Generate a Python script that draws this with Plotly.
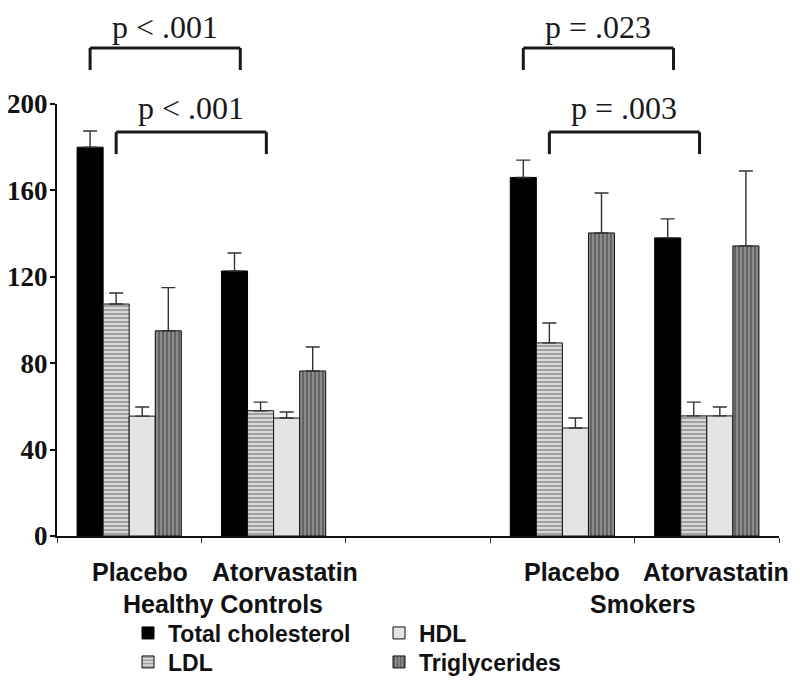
import plotly.graph_objects as go

# ---- data ----
categories = ["HC Placebo", "HC Atorvastatin", "gap", "Smokers Placebo", "Smokers Atorvastatin"]
tick_labels = ["Placebo", "Atorvastatin", "", "Placebo", "Atorvastatin"]
group_labels = ["Healthy Controls", "Smokers"]

total_chol = [180, 122.7, None, 166, 138]
total_chol_err = [7.5, 8.3, None, 8, 8.8]
ldl = [107.4, 58, None, 89.4, 55.6]
ldl_err = [5.1, 4, None, 9.2, 6.4]
hdl = [55.5, 54.6, None, 50, 55.6]
hdl_err = [4.2, 2.8, None, 4.6, 4.1]
trig = [95, 76.4, None, 140.3, 134.3]
trig_err = [20, 11.1, None, 18.5, 34.7]

p_labels = ["p < .001", "p < .001", "p = .023", "p = .003"]

# ---- style ----
BARGAP = 0.278
N_TRACES = 4
bar_w = (1 - BARGAP) / N_TRACES
def offset(i):
    return -(1 - BARGAP) / 2 + bar_w * (i + 0.5)

SANS = "Liberation Sans"
SERIF = "Liberation Serif"

# page has an 8px body margin: figure sized to fit the 800x685 window
FIG_W, FIG_H = 784, 669

def err(arr):
    return dict(type="data", array=arr, arrayminus=[0 if v is not None else None for v in arr],
                symmetric=False, color="#333333", thickness=1.4, width=7)

fig = go.Figure()
fig.add_trace(go.Bar(x=categories, y=total_chol, name="Total cholesterol",
                     marker=dict(color="#000000", line=dict(color="#000000", width=1)),
                     error_y=err(total_chol_err), legend="legend"))
fig.add_trace(go.Bar(x=categories, y=ldl, name="LDL",
                     marker=dict(color="#d4d4d4", line=dict(color="#111111", width=1),
                                 pattern=dict(shape="-", fgcolor="#8a8a8a", bgcolor="#d8d8d8",
                                              size=4, solidity=0.35, fillmode="replace")),
                     error_y=err(ldl_err), legend="legend3"))
fig.add_trace(go.Bar(x=categories, y=hdl, name="HDL",
                     marker=dict(color="#e4e4e4", line=dict(color="#111111", width=1)),
                     error_y=err(hdl_err), legend="legend2"))
fig.add_trace(go.Bar(x=categories, y=trig, name="Triglycerides",
                     marker=dict(color="#7a7a7a", line=dict(color="#111111", width=1),
                                 pattern=dict(shape="|", fgcolor="#5a5a5a", bgcolor="#8c8c8c",
                                              size=4, solidity=0.4, fillmode="replace")),
                     error_y=err(trig_err), legend="legend4"))

LBL_FONT = dict(family=SANS, size=25, color="#111111", weight="bold")

# category labels
annotations = []
label_shift = [11, 11, 0, 10, 9]
for i, lab in enumerate(tick_labels):
    if lab:
        annotations.append(dict(x=i, xref="x", xshift=label_shift[i], y=-0.083, yref="paper",
                                text=lab, showarrow=False, yanchor="middle", font=LBL_FONT))
annotations.append(dict(x=0.5, xref="x", xshift=22, y=-0.157, yref="paper",
                        text=group_labels[0], showarrow=False, yanchor="middle", font=LBL_FONT))
annotations.append(dict(x=3.5, xref="x", xshift=8, y=-0.157, yref="paper",
                        text=group_labels[1], showarrow=False, yanchor="middle", font=LBL_FONT))

# significance brackets: (left category, right category, trace index, level)
brackets = [(0, 1, 0, "top"), (0, 1, 1, "low"), (3, 4, 0, "top"), (3, 4, 1, "low")]
levels = {"top": (1.1296, 1.0787, 1.178), "low": (0.935, 0.884, 0.990)}
shapes = []
for (c0, c1, ti, lev), txt in zip(brackets, p_labels):
    ytop, ybot, ytxt = levels[lev]
    x0 = c0 + offset(ti)
    x1 = c1 + offset(ti) + 0.04
    line = dict(color="#1a1a1a", width=3)
    shapes.append(dict(type="line", xref="x", yref="paper", x0=x0, x1=x1, y0=ytop, y1=ytop, line=line))
    shapes.append(dict(type="line", xref="x", yref="paper", x0=x0, x1=x0, y0=ytop, y1=ybot, line=line))
    shapes.append(dict(type="line", xref="x", yref="paper", x0=x1, x1=x1, y0=ytop, y1=ybot, line=line))
    annotations.append(dict(x=(x0 + x1) / 2, xref="x", y=ytxt, yref="paper", text=txt,
                            showarrow=False, yanchor="middle",
                            font=dict(family=SERIF, size=32, color="#1a1a1a")))

LEG_FONT = dict(family=SANS, size=23, color="#111111", weight="bold")
def leg(x, y):
    return dict(x=x, y=y, xref="container", yref="container", xanchor="left", yanchor="middle",
                orientation="v", font=LEG_FONT, bgcolor="rgba(0,0,0,0)", itemclick=False,
                itemdoubleclick=False)

x_left = 120 / FIG_W
x_right = 371 / FIG_W
y_row1 = (FIG_H - 625) / FIG_H
y_row2 = (FIG_H - 654) / FIG_H

fig.update_layout(
    width=FIG_W, height=FIG_H, autosize=False,
    margin=dict(l=49, r=13, t=96, b=141, autoexpand=False),
    paper_bgcolor="white", plot_bgcolor="white",
    barmode="group", bargap=BARGAP, bargroupgap=0,
    xaxis=dict(type="category", categoryorder="array", categoryarray=categories,
               range=[-0.5, 4.5], showticklabels=False, showline=True, linecolor="#111111",
               linewidth=2, ticks="outside", ticklen=5, tickwidth=1, tickcolor="#333333",
               tickson="boundaries", showgrid=False, zeroline=False, automargin=False),
    yaxis=dict(range=[0, 200], dtick=40, tick0=0, showline=True, linecolor="#111111", linewidth=2,
               ticks="outside", ticklen=5, tickwidth=1.5, tickcolor="#111111", showgrid=False,
               zeroline=False, automargin=False, ticklabelstandoff=-3,
               tickfont=dict(family=SERIF, size=27, color="#111111", weight="bold")),
    legend=leg(x_left, y_row1),
    legend2=leg(x_right, y_row1),
    legend3=leg(x_left, y_row2),
    legend4=leg(x_right, y_row2),
    annotations=annotations,
    shapes=shapes,
    showlegend=True,
)
for t in fig.data:
    t.update(showlegend=True)

fig.write_html("out.html")
